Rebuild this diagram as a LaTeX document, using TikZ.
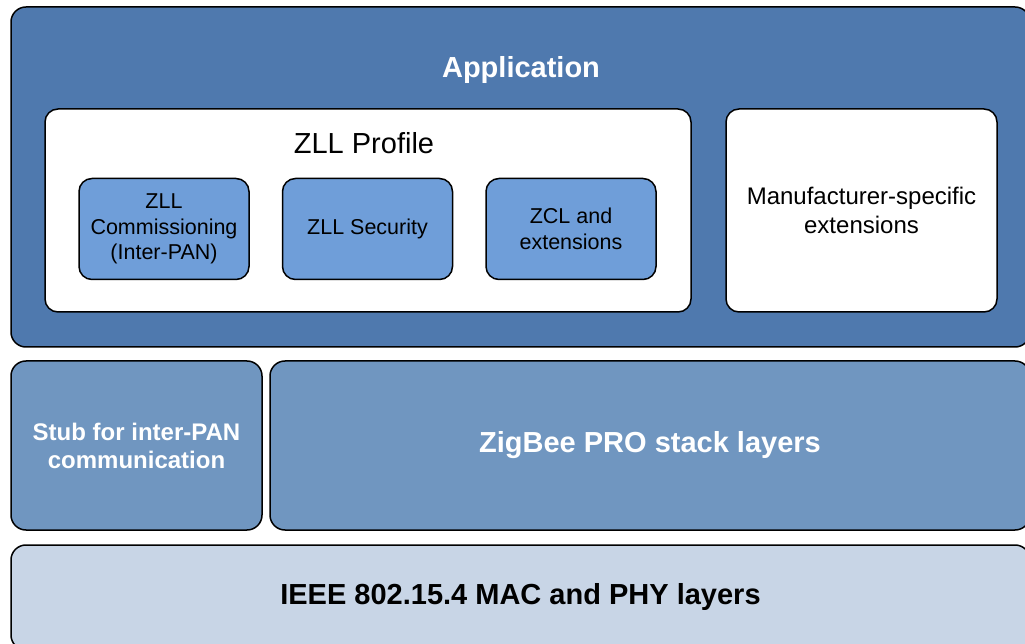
\documentclass[tikz,border=0pt]{standalone}
\usepackage{fontspec}
\setmainfont{Liberation Sans}
\usepackage{tikz}
\usetikzlibrary{positioning}
\usepackage{xcolor}
\definecolor{appblue}{RGB}{79,121,174}
\definecolor{zllblue}{RGB}{111,158,217}
\definecolor{stackblue}{RGB}{112,150,192}
\definecolor{macblue}{RGB}{200,213,230}
\tikzset{layerbox/.style={rectangle, rounded corners=15pt, draw=black, line width=1.5pt, inner sep=0pt}}

\begin{document}
\begin{tikzpicture}[
        line join=round,
        layerbox/.style={rectangle, rounded corners=15pt, draw=black, line width=1.5pt, inner sep=0pt},
        whitebox/.style={layerbox, rounded corners=13pt, fill=white, align=center, font=\fontsize{24}{28.5}\selectfont},
        zllbox/.style={layerbox, rounded corners=13pt, fill=zllblue, minimum width=170pt, minimum height=101pt, align=center, font=\fontsize{21.5}{25.5}\selectfont},
        bigtext/.style={font=\fontsize{29}{33}\selectfont\bfseries}
    ]
        \useasboundingbox (0pt, 0pt) rectangle (1025pt, 643pt);
        % Application
        \node[layerbox, fill=appblue, minimum width=1019pt, minimum height=340pt] (app) at (520.5pt, 466pt) {};
        \node[bigtext, text=white] (apptext) at (521pt, 573pt) {Application};
        % ZLL Profile
        \node[whitebox, minimum width=646pt, minimum height=203pt] (profile) at (368pt, 432.5pt) {};
        \node[font=\fontsize{29}{33}\selectfont] (profiletext) at (364pt, 500pt) {ZLL Profile};
        \node[zllbox] (commissioning) at (164pt, 414pt) {ZLL\\Commissioning\\(Inter-PAN)};
        \node[zllbox, right=32pt of commissioning] (security) {ZLL Security};
        \node[zllbox, right=32pt of security] (zcl) {ZCL and\\extensions};
        % Manufacturer
        \node[whitebox, minimum width=271pt, minimum height=203pt] (manufacturer) at (861.5pt, 432.5pt) {Manufacturer-specific\\extensions};
        % Stack layers
        \node[layerbox, fill=stackblue, minimum width=251pt, minimum height=169pt, text=white, align=center, font=\fontsize{24}{28}\selectfont\bfseries] (stub) at (136.5pt, 197.5pt) {Stub for inter-PAN\\communication};
        \node[layerbox, fill=stackblue, minimum width=760pt, minimum height=169pt, text=white, bigtext] (zigbee) at (650pt, 197.5pt) {ZigBee PRO stack layers};
        \node[layerbox, fill=macblue, minimum width=1019pt, minimum height=105pt, bigtext] (ieee) at (520.5pt, 45.5pt) {IEEE 802.15.4 MAC and PHY layers};
    \end{tikzpicture}
\end{document}
